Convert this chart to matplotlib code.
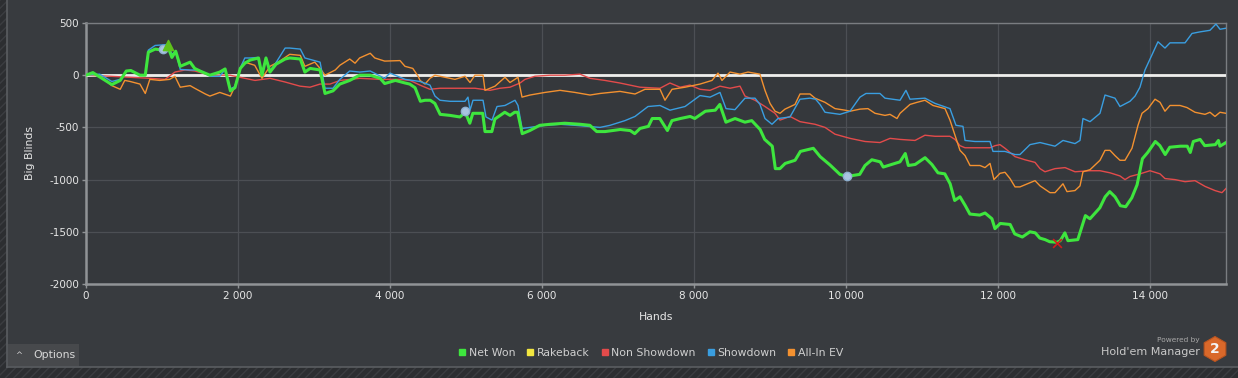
import matplotlib
matplotlib.use("Agg")
import matplotlib.pyplot as plt
from matplotlib.patches import Rectangle, RegularPolygon
from matplotlib.lines import Line2D
from matplotlib.ticker import FuncFormatter, MultipleLocator

# ---------------- data ----------------
net_hands = [0, 90, 340, 450, 530, 590, 710, 780, 820, 910, 1010, 1080, 1130, 1180, 1240, 1370, 1430, 1500,
             1630, 1760, 1830, 1900, 1960, 2030, 2090, 2160, 2270, 2316, 2368, 2421, 2500, 2620, 2680, 2820,
             2880, 2950, 3080, 3145, 3250, 3340, 3470, 3600, 3740, 3870, 3930, 4070, 4200, 4260, 4330, 4400,
             4460, 4530, 4590, 4660, 4790, 4920, 4990, 5050, 5090, 5180, 5220, 5250, 5340, 5380, 5510, 5580,
             5640, 5680, 5740, 5840, 5970, 6110, 6300, 6500, 6630, 6720, 6830, 7030, 7160, 7220, 7290, 7400,
             7450, 7550, 7650, 7710, 7820, 7950, 8010, 8150, 8280, 8340, 8420, 8540, 8670, 8760, 8870, 8930,
             9030, 9070, 9130, 9200, 9330, 9400, 9570, 9660, 9790, 9920, 10010, 10180, 10250, 10340, 10450,
             10490, 10580, 10710, 10780, 10820, 10910, 11040, 11130, 11210, 11300, 11370, 11430, 11500, 11570,
             11630, 11760, 11830, 11920, 11960, 12030, 12160, 12220, 12320, 12420, 12490, 12550, 12620, 12680,
             12780, 12820, 12880, 12920, 13050, 13150, 13210, 13340, 13410, 13470, 13540, 13610, 13680, 13760,
             13830, 13900, 13970, 14070, 14130, 14200, 14260, 14400, 14490, 14530, 14570, 14660, 14720, 14860,
             14900, 14920, 15000]
net_won = [0, 25, -90, -50, 40, 45, 0, 0, 220, 250, 240, 270, 170, 230, 85, 125, 65, 40,
           0, 30, 60, -150, -120, 65, 115, 145, 165, 0, 165, 30, 105, 155, 165, 155,
           30, 65, 50, -175, -150, -85, -50, 0, 0, -30, -80, -50, -75, -85, -120, -250,
           -240, -240, -270, -375, -385, -400, -355, -460, -365, -365, -365, -540, -540, -420, -355, -385,
           -355, -355, -560, -530, -480, -470, -460, -470, -480, -540, -540, -520, -530, -560, -510, -490,
           -415, -415, -530, -435, -415, -395, -415, -345, -335, -280, -450, -415, -450, -435, -520, -615,
           -680, -895, -895, -845, -815, -730, -700, -780, -860, -950, -970, -950, -865, -810, -830,
           -880, -860, -830, -750, -865, -855, -790, -855, -935, -945, -1040, -1200, -1165, -1250,
           -1330, -1340, -1320, -1375, -1470, -1420, -1430, -1520, -1550, -1500, -1510, -1560, -1575, -1595,
           -1600, -1585, -1510, -1585, -1575, -1345, -1375, -1270, -1165, -1115, -1165, -1250, -1260, -1175,
           -1050, -800, -740, -635, -675, -760, -690, -680, -680, -740, -635, -615, -675, -665,
           -625, -680, -645]

sd_hands = [0, 180, 340, 450, 530, 590, 710, 780, 820, 910, 1010, 1080, 1130, 1180, 1240, 1370, 1430, 1500,
            1630, 1760, 1830, 1900, 1960, 2030, 2090, 2160, 2260, 2316, 2368, 2421, 2500, 2620, 2680, 2820,
            2880, 3080, 3145, 3250, 3340, 3470, 3600, 3740, 3930, 4000, 4200, 4395, 4526, 4592, 4658, 4789,
            4987, 5026, 5053, 5092, 5224, 5263, 5342, 5408, 5513, 5645, 5684, 5737, 5842, 6039, 6237, 6434,
            6763, 6895, 7092, 7224, 7395, 7553, 7684, 7882, 8079, 8211, 8342, 8421, 8539, 8671, 8803, 8868,
            8934, 9026, 9105, 9263, 9395, 9526, 9600, 9658, 9724, 9921, 10053, 10184, 10263, 10447, 10513,
            10711, 10789, 10842, 11039, 11171, 11368, 11447, 11539, 11566, 11697, 11895, 11934, 12092, 12224,
            12289, 12421, 12553, 12750, 12855, 13013, 13079, 13118, 13211, 13342, 13408, 13539, 13605, 13737,
            13803, 13868, 13934, 14000, 14105, 14197, 14263, 14461, 14553, 14658, 14789, 14868, 14921, 15000]
showdown = [0, 10, -60, -40, 40, 45, 0, 5, 240, 285, 290, 295, 200, 230, 55, 50, 50, 45,
            -10, -10, 55, -130, -110, 70, 165, 165, 170, 10, 170, 40, 120, 260, 260, 250,
            165, 125, -125, -125, -40, 40, 30, 40, -30, 20, -40, -60, -95, -200, -240, -250,
            -250, -210, -335, -240, -240, -400, -430, -300, -290, -240, -290, -510, -500, -480, -470, -480,
            -500, -480, -435, -395, -300, -290, -335, -300, -195, -210, -165, -320, -330, -220, -220, -280,
            -415, -470, -415, -400, -230, -220, -230, -280, -355, -375, -345, -210, -175, -175, -220,
            -240, -145, -230, -220, -270, -320, -480, -490, -625, -635, -635, -730, -730, -760,
            -760, -665, -645, -680, -625, -655, -625, -415, -445, -365, -190, -220, -300, -250,
            -200, -115, 50, 155, 320, 260, 310, 310, 400, 415, 430, 490, 440, 450]

ev_hands = [0, 180, 340, 450, 510, 580, 710, 780, 840, 970, 1100, 1170, 1240, 1370, 1430, 1570, 1630, 1760,
            1900, 1960, 2030, 2090, 2220, 2316, 2421, 2550, 2680, 2820, 2880, 3010, 3080, 3145, 3280, 3340,
            3470, 3540, 3600, 3740, 3800, 3930, 4132, 4197, 4300, 4370, 4395, 4461, 4526, 4592, 4724, 4855,
            4987, 5053, 5118, 5224, 5250, 5382, 5513, 5579, 5684, 5737, 5842, 6039, 6237, 6434, 6632, 6763,
            7026, 7224, 7355, 7553, 7618, 7711, 7882, 8079, 8237, 8316, 8368, 8474, 8605, 8711, 8868, 8934,
            9000, 9066, 9132, 9197, 9329, 9395, 9526, 9592, 9724, 9855, 9987, 10053, 10184, 10289, 10382,
            10513, 10579, 10671, 10711, 10842, 10934, 11039, 11145, 11303, 11368, 11434, 11500, 11566, 11632,
            11763, 11829, 11895, 11947, 12026, 12092, 12158, 12224, 12289, 12421, 12487, 12553, 12684, 12750,
            12855, 12908, 13013, 13079, 13118, 13211, 13342, 13408, 13474, 13539, 13605, 13671, 13763, 13842,
            13895, 13974, 14066, 14132, 14197, 14263, 14395, 14487, 14592, 14724, 14789, 14855, 14921, 15000]
allin_ev = [0, 0, -100, -135, -50, -60, -85, -175, -40, -50, -40, -10, -115, -100, -125, -180, -200, -165,
            -200, -105, 65, 125, 95, -30, 85, 135, 200, 190, 85, 125, 65, 0, 50, 95,
            155, 115, 165, 210, 165, 135, 140, 85, 65, -10, -50, -85, -30, 0, -20, -40,
            -10, -70, 0, 0, -145, -105, -20, -70, -20, -210, -190, -165, -145, -165, -190, -175,
            -155, -180, -135, -135, -240, -135, -115, -85, -50, 20, -50, 30, 10, 30, 10, -145,
            -270, -345, -365, -325, -280, -180, -180, -220, -260, -320, -335, -345, -325, -320, -365,
            -385, -375, -415, -365, -280, -260, -240, -290, -320, -430, -575, -720, -770, -865,
            -865, -885, -845, -1000, -940, -930, -990, -1070, -1070, -1030, -1010, -1060, -1125, -1125,
            -1040, -1115, -1105, -1060, -925, -905, -815, -720, -720, -770, -815, -815, -700, -480,
            -365, -320, -230, -260, -345, -290, -290, -310, -355, -375, -355, -395, -355, -365]

nsd_hands = [0, 316, 579, 842, 1039, 1171, 1303, 1434, 1632, 1895, 2026, 2224, 2421, 2618, 2816, 2947, 3079,
             3211, 3342, 3605, 3868, 4132, 4263, 4395, 4526, 4658, 4921, 5118, 5316, 5447, 5579, 5711, 5776,
             5908, 6105, 6303, 6500, 6632, 6829, 7026, 7289, 7553, 7684, 7816, 7947, 8079, 8211, 8342, 8474,
             8605, 8671, 8803, 8934, 9066, 9132, 9263, 9395, 9592, 9724, 9855, 10053, 10250, 10447, 10579,
             10711, 10908, 11039, 11171, 11368, 11434, 11500, 11566, 11895, 11961, 12026, 12092, 12224, 12355,
             12487, 12553, 12618, 12750, 12882, 13013, 13211, 13342, 13474, 13605, 13671, 13737, 13868, 14000,
             14132, 14197, 14329, 14461, 14592, 14724, 14855, 14947, 15000]
non_showdown = [0, -10, -20, -30, -40, 30, 50, 40, 0, 0, -20, -50, -30, -65, -105, -115, -85,
                -85, -50, -30, -40, -40, -50, -95, -135, -125, -125, -125, -145, -125, -115, -75, -40,
                -10, 0, 0, 10, -30, -50, -75, -115, -125, -75, -115, -95, -135, -145, -105, -125,
                -105, -200, -240, -300, -365, -430, -395, -445, -470, -500, -565, -605, -635, -645, -605,
                -615, -625, -575, -585, -585, -615, -675, -695, -695, -675, -665, -700, -780, -810,
                -835, -895, -925, -895, -885, -925, -915, -915, -935, -965, -1000, -970, -945, -915,
                -945, -990, -1000, -1020, -1010, -1065, -1105, -1125, -1085]

rake_hands = [0, 15000]
rakeback = [0, 0]

# markers (HEM annotations)
dot_hands = [1010, 4990, 10010]
dot_vals = [250, -345, -970]
peak_hand, peak_val = 1080, 285
low_hand, low_val = 12780, -1605

legend_labels = ["Net Won", "Rakeback", "Non Showdown", "Showdown", "All-In EV"]
colors = {"Net Won": "#3ee63e", "Rakeback": "#f2e640", "Non Showdown": "#e34b4b",
          "Showdown": "#3a9ee0", "All-In EV": "#f39130"}

# ---------------- figure ----------------
W, H = 1238, 378
fig = plt.figure(figsize=(W / 100, H / 100), dpi=100)
fig.patch.set_facecolor("#383b3f")

# hatched outer border strips
for (x0, y0, w, h) in [(0, 0, 7 / W, 1), (0, 0, 1, 11 / H)]:
    fig.add_artist(Rectangle((x0, y0), w, h, transform=fig.transFigure,
                             facecolor="#2c2e31", edgecolor="#3b3d41", hatch="////",
                             linewidth=0, zorder=0))
# panel edges
fig.add_artist(Line2D([7 / W, 7 / W], [11 / H, 1], transform=fig.transFigure,
                      color="#5a5d61", lw=1.2))
fig.add_artist(Line2D([7 / W, 1], [11 / H, 11 / H], transform=fig.transFigure,
                      color="#5a5d61", lw=1.2))

ax = fig.add_axes([86 / W, 1 - 284 / H, (1226 - 86) / W, (284 - 23) / H])
ax.set_facecolor("#35383c")

ax.plot(rake_hands, rakeback, color=colors["Rakeback"], lw=1.0, zorder=2)
ax.axhline(0, color="#eeeeee", lw=2.0, zorder=3)
ax.plot(nsd_hands, non_showdown, color=colors["Non Showdown"], lw=1.0, zorder=4)
ax.plot(ev_hands, allin_ev, color=colors["All-In EV"], lw=1.0, zorder=4)
ax.plot(sd_hands, showdown, color=colors["Showdown"], lw=1.0, zorder=5)
ax.plot(net_hands, net_won, color=colors["Net Won"], lw=2.2, zorder=6)

ax.scatter(dot_hands, dot_vals, s=36, color="#a9c4e0", edgecolor="#8fb0d0", zorder=7)
ax.scatter([peak_hand], [peak_val], s=55, marker="^", color="#5ec21a", zorder=7)
ax.scatter([low_hand], [low_val], s=40, marker="x", color="#d01c1c", linewidths=1.2, zorder=7)

ax.set_xlim(0, 15000)
ax.set_ylim(-2000, 500)
ax.xaxis.set_major_locator(MultipleLocator(2000))
ax.yaxis.set_major_locator(MultipleLocator(500))
ax.xaxis.set_major_formatter(FuncFormatter(lambda v, p: f"{int(v):,}".replace(",", " ")))
ax.yaxis.set_major_formatter(FuncFormatter(lambda v, p: f"{int(v)}"))
ax.grid(True, color="#4c4f54", lw=0.9, zorder=0)
ax.set_axisbelow(True)

for side in ["top", "right"]:
    ax.spines[side].set_color("#7a7d81")
    ax.spines[side].set_linewidth(1.0)
for side in ["left", "bottom"]:
    ax.spines[side].set_color("#909396")
    ax.spines[side].set_linewidth(1.8)

ax.tick_params(axis="both", colors="#909396", labelcolor="#e6e6e6", labelsize=7.5,
               length=3, width=1, pad=2)

ax.set_xlabel("Hands", color="#e6e6e6", fontsize=7.8, labelpad=8)
ax.set_ylabel("Big Blinds", color="#e6e6e6", fontsize=7.8, labelpad=10)

# legend
handles = [Line2D([], [], marker="s", linestyle="none", markersize=5,
                  color=colors[lab]) for lab in legend_labels]
leg = fig.legend(handles, legend_labels, loc="center", bbox_to_anchor=(650 / W, 1 - 353 / H),
                 ncol=5, frameon=False, fontsize=7.8, handletextpad=0.1, columnspacing=0.9,
                 handlelength=1.0)
for t in leg.get_texts():
    t.set_color("#cfcfcf")

# Options button
fig.add_artist(Rectangle((8 / W, 1 - 366 / H), 71 / W, 22 / H, transform=fig.transFigure,
                         facecolor="#47494c", edgecolor="none", zorder=1))
fig.text(19 / W, 1 - 355 / H, "^", color="#d0d0d0", fontsize=6, va="center", ha="center")
fig.text(33 / W, 1 - 355 / H, "Options", color="#d8d8d8", fontsize=7.8, va="center", ha="left")

# Powered by Hold'em Manager 2
fig.text(1200 / W, 1 - 340 / H, "Powered by", color="#a8a8a8", fontsize=5.3, va="center", ha="right")
fig.text(1200 / W, 1 - 352 / H, "Hold'em Manager", color="#c8c8c8", fontsize=8, va="center", ha="right")
fig.add_artist(RegularPolygon((12.15, (H - 349) / 100), numVertices=6, radius=0.125,
                              orientation=0, transform=fig.dpi_scale_trans,
                              facecolor="#d9682a", edgecolor="#b85420", lw=0.8))
fig.text(1215 / W, 1 - 349 / H, "2", color="#f4f4f4", fontsize=10, fontweight="bold",
         va="center", ha="center")

fig.savefig("out.png", dpi=100, facecolor=fig.get_facecolor())
